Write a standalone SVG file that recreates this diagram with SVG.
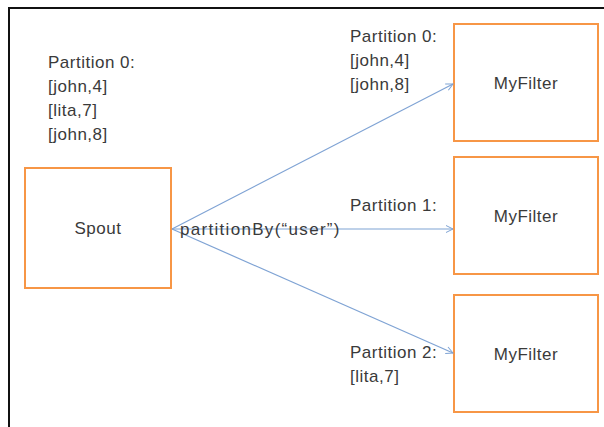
<svg xmlns="http://www.w3.org/2000/svg" width="604" height="427" viewBox="0 0 604 427">
<defs>
<marker id="ah" markerWidth="10" markerHeight="10" refX="8" refY="5" orient="auto" markerUnits="userSpaceOnUse">
<path d="M1,1.5 L8,5 L1,8.5" fill="none" stroke="#7fa3d4" stroke-width="1"/>
</marker>
<style>
.box{fill:#fff;stroke:#f79646;stroke-width:2}
.t{font-family:"Liberation Sans",Arial,sans-serif;font-size:17px;letter-spacing:0.5px;fill:#3a3a3a}
.c{text-anchor:middle}
.e{fill:none;stroke:#7fa3d4;stroke-width:1.2}
</style>
</defs>
<rect width="604" height="427" fill="#fff"/>
<path d="M9,427 V8 H604" fill="none" stroke="#111" stroke-width="2"/>
<g id="spout"><rect class="box" x="25" y="168" width="146" height="120"/><text class="t c" x="98" y="234">Spout</text></g>
<g id="filter0"><rect class="box" x="454" y="24" width="144" height="117"/><text class="t c" x="526" y="89">MyFilter</text></g>
<g id="filter1"><rect class="box" x="454" y="157" width="144" height="117"/><text class="t c" x="526" y="222">MyFilter</text></g>
<g id="filter2"><rect class="box" x="454" y="295" width="144" height="117"/><text class="t c" x="526" y="360">MyFilter</text></g>
<g id="connectors">
<line class="e" x1="172" y1="229" x2="453" y2="84" marker-end="url(#ah)"/>
<line class="e" x1="172" y1="229" x2="453" y2="229" marker-end="url(#ah)"/>
<line class="e" x1="172" y1="229" x2="453" y2="353" marker-end="url(#ah)"/>
</g>
<g id="labels">
<text class="t" x="48" y="68">Partition 0:</text>
<text class="t" x="48" y="92">[john,4]</text>
<text class="t" x="48" y="116">[lita,7]</text>
<text class="t" x="48" y="140">[john,8]</text>
<text class="t" x="350" y="42">Partition 0:</text>
<text class="t" x="350" y="66">[john,4]</text>
<text class="t" x="350" y="90">[john,8]</text>
<text class="t" x="350" y="211">Partition 1:</text>
<text class="t" x="350" y="358">Partition 2:</text>
<text class="t" x="350" y="382">[lita,7]</text>
<text class="t" x="180" y="235" textLength="160" lengthAdjust="spacing">partitionBy(“user”)</text>
</g>
</svg>
